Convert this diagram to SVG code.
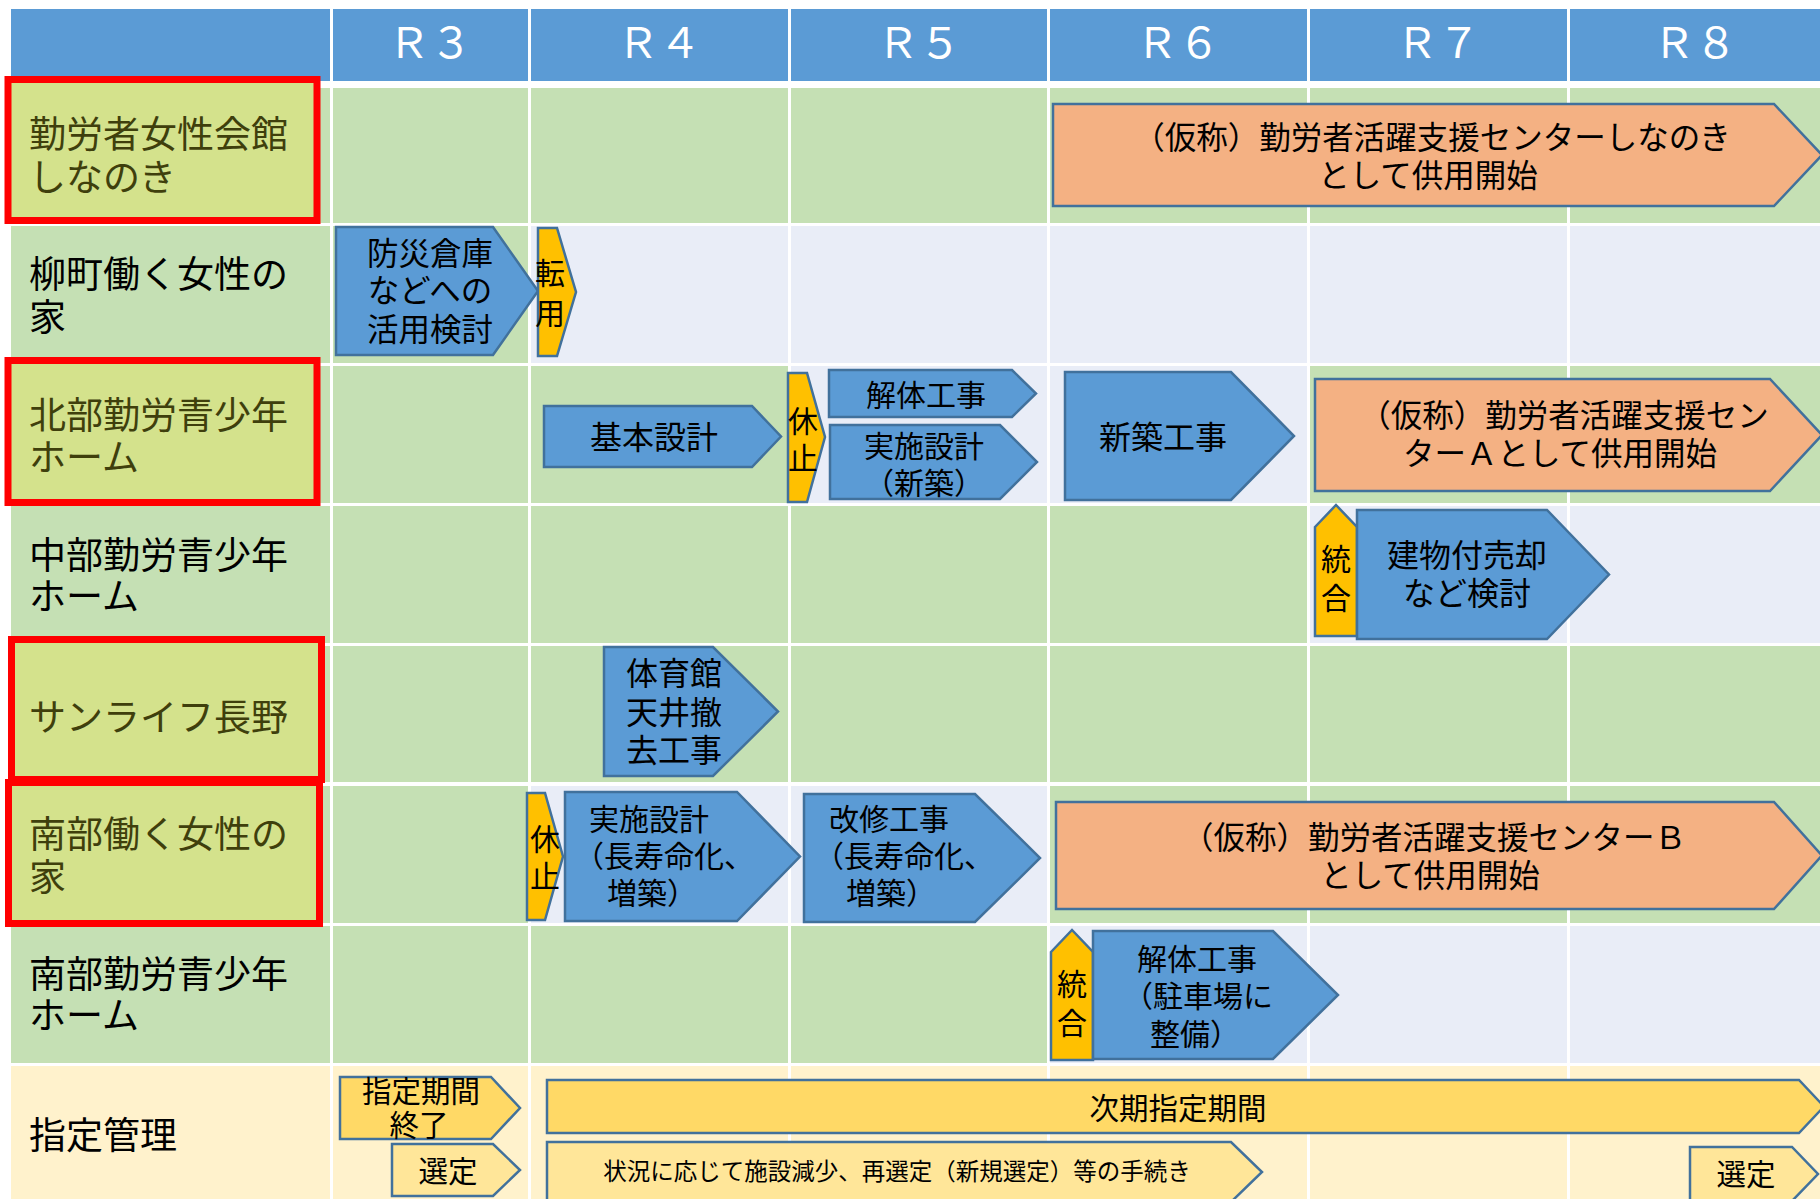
<svg xmlns="http://www.w3.org/2000/svg" width="1820" height="1199" viewBox="0 0 1820 1199">
<style>
text{font-family:"Noto Sans CJK JP","Noto Sans",sans-serif;fill:#000}
.g{fill:#C5E0B4}.l{fill:#E9EDF7}.c{fill:#FFF2CC}.h{fill:#5B9BD5}
.blue{fill:#5B9BD5;stroke:#41719C;stroke-width:2.5}
.orange{fill:#F4B183;stroke:#41719C;stroke-width:2.5}
.gold{fill:#FFC000;stroke:#41719C;stroke-width:2.5}
.y1{fill:#FFD966;stroke:#41719C;stroke-width:2.5}
.y2{fill:#FFE699;stroke:#41719C;stroke-width:2.5}
.red{fill:#D4E28C;stroke:#FF0000;stroke-width:7}
.lbl{font-size:37px}
.lblh{font-size:37px;fill:#3F3F0C}
.hd{font-size:42px;fill:#fff;text-anchor:middle}
.t{font-size:31.5px;text-anchor:middle}
.t30{font-size:30px;text-anchor:middle}
.t32{font-size:32px;text-anchor:middle}
.s30{font-size:30px}
.t29{font-size:29.5px;text-anchor:middle}
</style>
<rect width="1820" height="1199" fill="#fff"/>
<g id="grid">
<rect class="h" x="11" y="9" width="319" height="72"/>
<rect class="h" x="333" y="9" width="195" height="72"/>
<rect class="h" x="531" y="9" width="257" height="72"/>
<rect class="h" x="791" y="9" width="256" height="72"/>
<rect class="h" x="1050" y="9" width="257" height="72"/>
<rect class="h" x="1310" y="9" width="257" height="72"/>
<rect class="h" x="1570" y="9" width="250" height="72"/>
<rect class="g" x="11" y="88" width="319" height="135"/>
<rect class="g" x="333" y="88" width="195" height="135"/>
<rect class="g" x="531" y="88" width="257" height="135"/>
<rect class="g" x="791" y="88" width="256" height="135"/>
<rect class="g" x="1050" y="88" width="257" height="135"/>
<rect class="g" x="1310" y="88" width="257" height="135"/>
<rect class="g" x="1570" y="88" width="250" height="135"/>
<rect class="g" x="11" y="226" width="319" height="137"/>
<rect class="g" x="333" y="226" width="195" height="137"/>
<rect class="l" x="531" y="226" width="257" height="137"/>
<rect class="l" x="791" y="226" width="256" height="137"/>
<rect class="l" x="1050" y="226" width="257" height="137"/>
<rect class="l" x="1310" y="226" width="257" height="137"/>
<rect class="l" x="1570" y="226" width="250" height="137"/>
<rect class="g" x="11" y="366" width="319" height="137"/>
<rect class="g" x="333" y="366" width="195" height="137"/>
<rect class="g" x="531" y="366" width="257" height="137"/>
<rect class="l" x="791" y="366" width="256" height="137"/>
<rect class="l" x="1050" y="366" width="257" height="137"/>
<rect class="g" x="1310" y="366" width="257" height="137"/>
<rect class="g" x="1570" y="366" width="250" height="137"/>
<rect class="g" x="11" y="506" width="319" height="137"/>
<rect class="g" x="333" y="506" width="195" height="137"/>
<rect class="g" x="531" y="506" width="257" height="137"/>
<rect class="g" x="791" y="506" width="256" height="137"/>
<rect class="g" x="1050" y="506" width="257" height="137"/>
<rect class="l" x="1310" y="506" width="257" height="137"/>
<rect class="l" x="1570" y="506" width="250" height="137"/>
<rect class="g" x="11" y="646" width="319" height="136"/>
<rect class="g" x="333" y="646" width="195" height="136"/>
<rect class="g" x="531" y="646" width="257" height="136"/>
<rect class="g" x="791" y="646" width="256" height="136"/>
<rect class="g" x="1050" y="646" width="257" height="136"/>
<rect class="g" x="1310" y="646" width="257" height="136"/>
<rect class="g" x="1570" y="646" width="250" height="136"/>
<rect class="g" x="11" y="786" width="319" height="137"/>
<rect class="g" x="333" y="786" width="195" height="137"/>
<rect class="l" x="531" y="786" width="257" height="137"/>
<rect class="l" x="791" y="786" width="256" height="137"/>
<rect class="g" x="1050" y="786" width="257" height="137"/>
<rect class="g" x="1310" y="786" width="257" height="137"/>
<rect class="g" x="1570" y="786" width="250" height="137"/>
<rect class="g" x="11" y="926" width="319" height="137"/>
<rect class="g" x="333" y="926" width="195" height="137"/>
<rect class="g" x="531" y="926" width="257" height="137"/>
<rect class="g" x="791" y="926" width="256" height="137"/>
<rect class="l" x="1050" y="926" width="257" height="137"/>
<rect class="l" x="1310" y="926" width="257" height="137"/>
<rect class="l" x="1570" y="926" width="250" height="137"/>
<rect class="c" x="11" y="1066" width="319" height="133"/>
<rect class="c" x="333" y="1066" width="195" height="133"/>
<rect class="c" x="531" y="1066" width="257" height="133"/>
<rect class="c" x="791" y="1066" width="256" height="133"/>
<rect class="c" x="1050" y="1066" width="257" height="133"/>
<rect class="c" x="1310" y="1066" width="257" height="133"/>
<rect class="c" x="1570" y="1066" width="250" height="133"/>
</g>
<g id="header-labels">
<text class="hd" x="430" y="58">Ｒ３</text>
<text class="hd" x="659" y="58">Ｒ４</text>
<text class="hd" x="919" y="58">Ｒ５</text>
<text class="hd" x="1178" y="58">Ｒ６</text>
<text class="hd" x="1438" y="58">Ｒ７</text>
<text class="hd" x="1695" y="58">Ｒ８</text>
</g>
<g id="label-shinanoki">
<rect class="red" x="8" y="79.5" width="309" height="141"/>
<text class="lblh" x="29" y="148">勤労者女性会館<tspan x="29" dy="43">しなのき</tspan></text>
</g>
<g id="label-yanagimachi">
<text class="lbl" x="29" y="288">柳町働く女性の<tspan x="29" dy="43">家</tspan></text>
</g>
<g id="label-hokubu">
<rect class="red" x="8" y="360.5" width="309" height="142"/>
<text class="lblh" x="29" y="429">北部勤労青少年<tspan x="29" dy="42">ホーム</tspan></text>
</g>
<g id="label-chubu">
<text class="lbl" x="29" y="569">中部勤労青少年<tspan x="29" dy="41">ホーム</tspan></text>
</g>
<g id="label-sunlife">
<rect class="red" x="11.5" y="639.5" width="310" height="140"/>
<text class="lblh" x="29" y="731">サンライフ長野</text>
</g>
<g id="label-nanbu-josei">
<rect class="red" x="8.5" y="782.5" width="311" height="141"/>
<text class="lblh" x="29" y="848">南部働く女性の<tspan x="29" dy="43">家</tspan></text>
</g>
<g id="label-nanbu-seishonen">
<text class="lbl" x="29" y="988">南部勤労青少年<tspan x="29" dy="41">ホーム</tspan></text>
</g>
<g id="label-shitei">
<text class="lbl" x="29" y="1149">指定管理</text>
</g>
<g id="connectors"></g>
<g id="n-shinanoki-center">
<polygon class="orange" points="1053,104 1774,104 1822,155 1774,206 1053,206"/>
<text class="t" x="1432" y="149">（仮称）勤労者活躍支援センターしなのき<tspan x="1428" dy="38">として供用開始</tspan></text>
</g>
<g id="n-bousai">
<polygon class="blue" points="336,227 493,227 538,291 493,355 336,355"/>
<text class="t" x="430" y="265">防災倉庫<tspan x="430" dy="37">などへの</tspan><tspan x="430" dy="39">活用検討</tspan></text>
</g>
<g id="n-tenyou">
<polygon class="gold" points="538,228 557,228 576,292 557,356 538,356"/>
<text class="t30" x="550" y="284">転<tspan x="550" dy="40">用</tspan></text>
</g>
<g id="n-kihon">
<polygon class="blue" points="544,406 752,406 781,436.5 752,467 544,467"/>
<text class="t32" x="654" y="449">基本設計</text>
</g>
<g id="n-kyushi1">
<polygon class="gold" points="788,373 807,373 825,437 807,502 788,502"/>
<text class="t30" x="803" y="432">休<tspan x="803" dy="37">止</tspan></text>
</g>
<g id="n-kaitai1">
<polygon class="blue" points="829,370 1012,370 1036,393.5 1012,417 829,417"/>
<text class="t30" x="926" y="406">解体工事</text>
</g>
<g id="n-jisshi-shinchiku">
<polygon class="blue" points="830,425 1000,425 1037,462 1000,499 830,499"/>
<text class="t30" x="924" y="457">実施設計<tspan x="924" dy="37">（新築）</tspan></text>
</g>
<g id="n-shinchiku">
<polygon class="blue" points="1065,372 1231,372 1294,436 1231,500 1065,500"/>
<text class="t32" x="1163" y="449">新築工事</text>
</g>
<g id="n-center-a">
<polygon class="orange" points="1315,379 1770,379 1822,435 1770,491 1315,491"/>
<text class="t" x="1564" y="427">（仮称）勤労者活躍支援セン<tspan x="1560" dy="38">ターＡとして供用開始</tspan></text>
</g>
<g id="n-tougou1">
<polygon class="gold" points="1315,527 1336,505 1357,527 1357,636 1315,636"/>
<text class="t30" x="1336" y="570">統<tspan x="1336" dy="39">合</tspan></text>
</g>
<g id="n-tatemono">
<polygon class="blue" points="1357,510 1547,510 1609,574.5 1547,639 1357,639"/>
<text class="t32" x="1467" y="567">建物付売却<tspan x="1467" dy="38">など検討</tspan></text>
</g>
<g id="n-taiikukan">
<polygon class="blue" points="604,647 713,647 778,711.5 713,776 604,776"/>
<text class="t32" x="674" y="685">体育館<tspan x="674" dy="39">天井撤</tspan><tspan x="674" dy="38">去工事</tspan></text>
</g>
<g id="n-kyushi2">
<polygon class="gold" points="527,793 545,793 563,856.5 545,920 527,920"/>
<text class="t30" x="545" y="850">休<tspan x="545" dy="37">止</tspan></text>
</g>
<g id="n-jisshi-chouju">
<polygon class="blue" points="565,792 737,792 800,856.5 737,921 565,921"/>
<text class="s30" x="589" y="830">実施設計<tspan x="574" dy="37">（長寿命化、</tspan><tspan x="607" dy="37">増築）</tspan></text>
</g>
<g id="n-kaishu">
<polygon class="blue" points="804,794 975,794 1040,858 975,922 804,922"/>
<text class="s30" x="829" y="830">改修工事<tspan x="814" dy="37">（長寿命化、</tspan><tspan x="846" dy="37">増築）</tspan></text>
</g>
<g id="n-center-b">
<polygon class="orange" points="1056,802 1774,802 1822,855.5 1774,909 1056,909"/>
<text class="t" x="1434" y="849">（仮称）勤労者活躍支援センターＢ<tspan x="1430" dy="38">として供用開始</tspan></text>
</g>
<g id="n-tougou2">
<polygon class="gold" points="1051,952 1072,930 1093,952 1093,1060 1051,1060"/>
<text class="t30" x="1072" y="995">統<tspan x="1072" dy="39">合</tspan></text>
</g>
<g id="n-kaitai2">
<polygon class="blue" points="1093,931 1273,931 1338,995 1273,1059 1093,1059"/>
<text class="s30" x="1137" y="970">解体工事<tspan x="1123" dy="37">（駐車場に</tspan><tspan x="1150" dy="38">整備）</tspan></text>
</g>
<g id="n-shitei-end">
<polygon class="y1" points="340,1077 491,1077 520,1108 491,1139 340,1139"/>
<text class="t29" x="421" y="1102">指定期間<tspan x="419" dy="34">終了</tspan></text>
</g>
<g id="n-sentei1">
<polygon class="y2" points="392,1144 493,1144 520,1170 493,1196 392,1196"/>
<text class="t29" x="448" y="1182">選定</text>
</g>
<g id="n-jiki">
<polygon class="y1" points="547,1080 1799,1080 1824,1106.5 1799,1133 547,1133"/>
<text class="t29" x="1178" y="1119">次期指定期間</text>
</g>
<g id="n-jokyo">
<polygon class="y2" points="547,1142 1231,1142 1262,1172 1231,1202 547,1202"/>
<text x="897" y="1180" style="font-size:23.5px;text-anchor:middle">状況に応じて施設減少、再選定（新規選定）等の手続き</text>
</g>
<g id="n-sentei2">
<polygon class="y2" points="1690,1147 1792,1147 1818,1174 1792,1201 1690,1201"/>
<text class="t29" x="1746" y="1185">選定</text>
</g>
</svg>
